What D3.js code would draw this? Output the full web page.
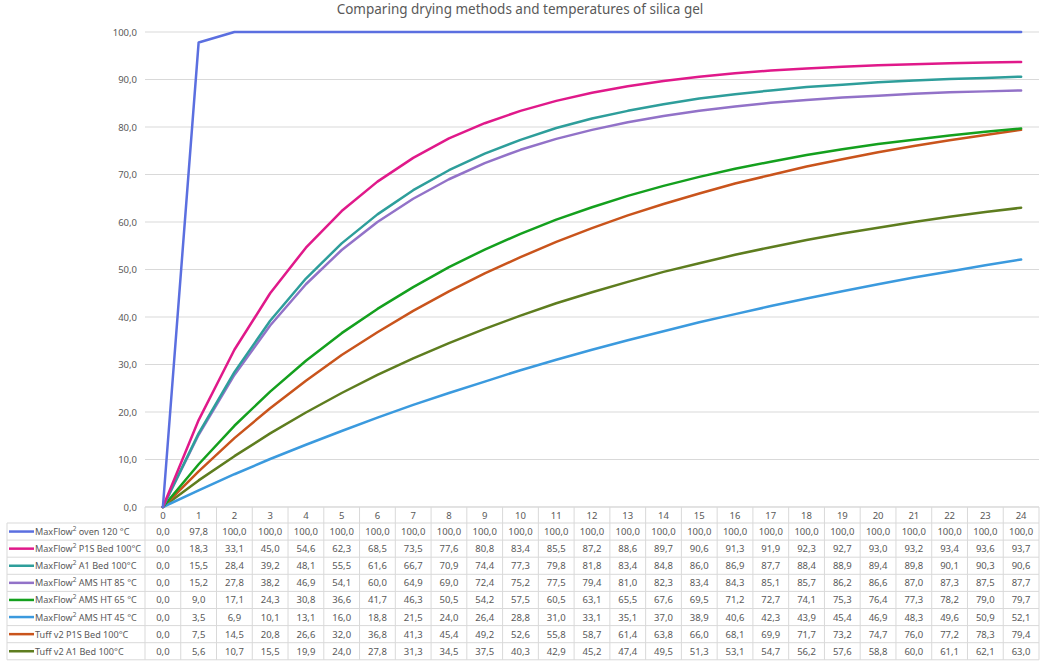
<!DOCTYPE html>
<html>
<head>
<meta charset="utf-8">
<script src="https://cdn.jsdelivr.net/npm/d3@7"></script>
<style>
  body { margin: 0; background: #fff; }
  svg { font-family: "Noto Sans", "DejaVu Sans", sans-serif; }
</style>
</head>
<body>
<svg id="svg" width="1050" height="668"></svg>
<script>
// hours
var hours = d3.range(0, 25);

var seriesNames = [
  'MaxFlow² oven 120 °C',
  'MaxFlow² P1S Bed 100°C',
  'MaxFlow² A1 Bed 100°C',
  'MaxFlow² AMS HT 85 °C',
  'MaxFlow² AMS HT 65 °C',
  'MaxFlow² AMS HT 45 °C',
  'Tuff v2 P1S Bed 100°C',
  'Tuff v2 A1 Bed 100°C'
];

var seriesColors = ['#5b6fe0', '#e0198a', '#2e9e9b', '#9272c8', '#14a01e', '#3b9ade', '#c9541c', '#5e7d1f'];

var ovenValues   = [0, 97.8, 100, 100, 100, 100, 100, 100, 100, 100, 100, 100, 100, 100, 100, 100, 100, 100, 100, 100, 100, 100, 100, 100, 100];
var p1sValues    = [0, 18.3, 33.1, 45.0, 54.6, 62.3, 68.5, 73.5, 77.6, 80.8, 83.4, 85.5, 87.2, 88.6, 89.7, 90.6, 91.3, 91.9, 92.3, 92.7, 93.0, 93.2, 93.4, 93.6, 93.7];
var a1Values     = [0, 15.5, 28.4, 39.2, 48.1, 55.5, 61.6, 66.7, 70.9, 74.4, 77.3, 79.8, 81.8, 83.4, 84.8, 86.0, 86.9, 87.7, 88.4, 88.9, 89.4, 89.8, 90.1, 90.3, 90.6];
var ams85Values  = [0, 15.2, 27.8, 38.2, 46.9, 54.1, 60.0, 64.9, 69.0, 72.4, 75.2, 77.5, 79.4, 81.0, 82.3, 83.4, 84.3, 85.1, 85.7, 86.2, 86.6, 87.0, 87.3, 87.5, 87.7];
var ams65Values  = [0, 9.0, 17.1, 24.3, 30.8, 36.6, 41.7, 46.3, 50.5, 54.2, 57.5, 60.5, 63.1, 65.5, 67.6, 69.5, 71.2, 72.7, 74.1, 75.3, 76.4, 77.3, 78.2, 79.0, 79.7];
var ams45Values  = [0, 3.5, 6.9, 10.1, 13.1, 16.0, 18.8, 21.5, 24.0, 26.4, 28.8, 31.0, 33.1, 35.1, 37.0, 38.9, 40.6, 42.3, 43.9, 45.4, 46.9, 48.3, 49.6, 50.9, 52.1];
var tuffP1sValues = [0, 7.5, 14.5, 20.8, 26.6, 32.0, 36.8, 41.3, 45.4, 49.2, 52.6, 55.8, 58.7, 61.4, 63.8, 66.0, 68.1, 69.9, 71.7, 73.2, 74.7, 76.0, 77.2, 78.3, 79.4];
var tuffA1Values = [0, 5.6, 10.7, 15.5, 19.9, 24.0, 27.8, 31.3, 34.5, 37.5, 40.3, 42.9, 45.2, 47.4, 49.5, 51.3, 53.1, 54.7, 56.2, 57.6, 58.8, 60.0, 61.1, 62.1, 63.0];

var yTicks = [0, 10, 20, 30, 40, 50, 60, 70, 80, 90, 100];

var series = [ovenValues, p1sValues, a1Values, ams85Values, ams65Values, ams45Values, tuffP1sValues, tuffA1Values]
  .map(function(v, i){ return {name: seriesNames[i], color: seriesColors[i], values: v}; });

var fmt = function(v){ return d3.format('.1f')(v).replace('.', ','); };

var svg = d3.select('svg');

var plotLeft = 145, plotRight = 1039, plotTop = 32, plotBottom = 507;
var tableLeft = 7, rowH = 17.1, headerH = 16;
var gridColor = '#d9d9d9', textColor = '#595959';

var x = d3.scaleBand()
  .domain(hours)
  .range([plotLeft, plotRight]);

var y = d3.scaleLinear()
  .domain([0, 100])
  .range([plotBottom, plotTop]);

// title
svg.append('text')
  .attr('x', 520)
  .attr('y', 14)
  .attr('text-anchor', 'middle')
  .attr('font-size', 13.5)
  .attr('fill', textColor)
  .text('Comparing drying methods and temperatures of silica gel');

// gridlines + y labels
svg.append('g')
  .selectAll('line')
  .data(yTicks)
  .enter()
  .append('line')
  .attr('x1', plotLeft)
  .attr('x2', plotRight)
  .attr('y1', function(d){ return y(d); })
  .attr('y2', function(d){ return y(d); })
  .attr('stroke', gridColor)
  .attr('stroke-width', 1);

svg.append('g')
  .selectAll('text')
  .data(yTicks)
  .enter()
  .append('text')
  .attr('x', plotLeft - 8)
  .attr('y', function(d){ return y(d) + 3.5; })
  .attr('text-anchor', 'end')
  .attr('font-size', 9.5)
  .attr('fill', textColor)
  .text(fmt);

// data table
var table = svg.append('g');
var tableBottom = plotBottom + headerH + rowH * series.length;

// horizontal rules
var rowYs = [plotBottom + headerH].concat(d3.range(1, series.length + 1).map(function(i){ return plotBottom + headerH + i * rowH; }));
table.selectAll('line.h')
  .data(rowYs)
  .enter()
  .append('line')
  .attr('x1', tableLeft)
  .attr('x2', plotRight)
  .attr('y1', function(d){ return d; })
  .attr('y2', function(d){ return d; })
  .attr('stroke', gridColor);

table.append('line')
  .attr('x1', plotLeft).attr('x2', plotRight)
  .attr('y1', plotBottom).attr('y2', plotBottom)
  .attr('stroke', gridColor);

// vertical rules
table.append('line')
  .attr('x1', tableLeft).attr('x2', tableLeft)
  .attr('y1', plotBottom + headerH).attr('y2', tableBottom)
  .attr('stroke', gridColor);

table.selectAll('line.v')
  .data(hours.concat([25]))
  .enter()
  .append('line')
  .attr('x1', function(d){ return d < 25 ? x(d) : plotRight; })
  .attr('x2', function(d){ return d < 25 ? x(d) : plotRight; })
  .attr('y1', plotBottom)
  .attr('y2', tableBottom)
  .attr('stroke', gridColor);

// header (category labels)
table.selectAll('text.hdr')
  .data(hours)
  .enter()
  .append('text')
  .attr('x', function(d){ return x(d) + x.bandwidth() / 2; })
  .attr('y', plotBottom + 12)
  .attr('text-anchor', 'middle')
  .attr('font-size', 9.5)
  .attr('fill', textColor)
  .text(function(d){ return d; });

// rows
var rows = table.selectAll('g.row')
  .data(series)
  .enter()
  .append('g')
  .attr('transform', function(d, i){ return 'translate(0,' + (plotBottom + headerH + i * rowH) + ')'; });

rows.append('line')
  .attr('x1', tableLeft + 2)
  .attr('x2', tableLeft + 27)
  .attr('y1', rowH / 2)
  .attr('y2', rowH / 2)
  .attr('stroke', function(d){ return d.color; })
  .attr('stroke-width', 2.5);

rows.append('text')
  .attr('x', tableLeft + 28)
  .attr('y', rowH / 2 + 3.5)
  .attr('font-size', 9.1)
  .attr('fill', textColor)
  .each(function(d){
    var t = d3.select(this);
    var parts = d.name.split('²');
    if (parts.length > 1) {
      t.append('tspan').text(parts[0]);
      t.append('tspan').attr('dy', -4).attr('font-size', 6.5).text('2');
      t.append('tspan').attr('dy', 4).text(parts[1]);
    } else {
      t.text(d.name);
    }
  });

rows.selectAll('text.val')
  .data(function(d){ return d.values; })
  .enter()
  .append('text')
  .attr('x', function(d, i){ return x(hours[i]) + x.bandwidth() / 2; })
  .attr('y', rowH / 2 + 3.5)
  .attr('text-anchor', 'middle')
  .attr('font-size', 9.5)
  .attr('fill', textColor)
  .text(fmt);

// lines
var line = d3.line()
  .x(function(d, i){ return x(hours[i]) + x.bandwidth() / 2; })
  .y(function(d){ return y(d); });

svg.append('g')
  .selectAll('path')
  .data(series.slice().reverse())
  .enter()
  .append('path')
  .attr('d', function(d){ return line(d.values); })
  .attr('fill', 'none')
  .attr('stroke', function(d){ return d.color; })
  .attr('stroke-width', 2.5)
  .attr('stroke-linejoin', 'round')
  .attr('stroke-linecap', 'round');
</script>
</body>
</html>
